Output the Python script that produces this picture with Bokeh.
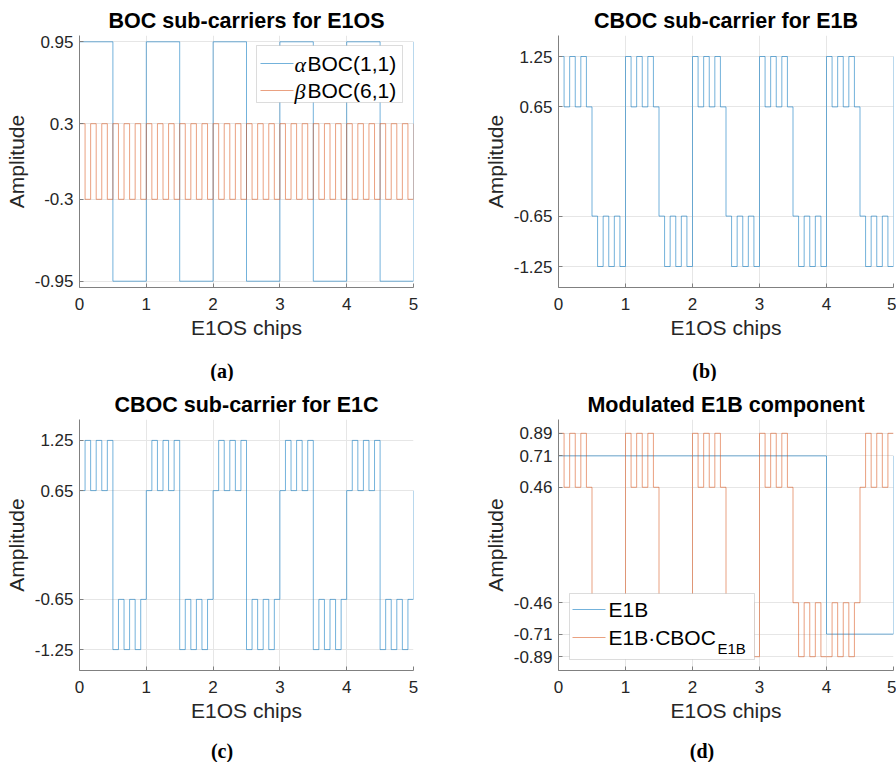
import numpy as np
from bokeh.plotting import figure
from bokeh.layouts import row, column
from bokeh.models import Range1d, FixedTicker, Label, BoxAnnotation
from bokeh.embed import file_html
from bokeh.resources import INLINE

# ---------------------------------------------------------------- data
SUBCHIPS = 12          # BOC(6,1) half-periods per E1OS chip
x_ticks = [0, 1, 2, 3, 4, 5]
x_tick_labels = ["0", "1", "2", "3", "4", "5"]

# alpha*BOC(1,1), one value per half chip (last value = start of next chip)
alpha_boc11 = [0.95, -0.95, 0.95, -0.95, 0.95, -0.95, 0.95, -0.95, 0.95, -0.95, 0.95]

# beta*BOC(6,1), one value per sub-chip, one row per chip
beta_boc61 = [
    0.3, -0.3, 0.3, -0.3, 0.3, -0.3, 0.3, -0.3, 0.3, -0.3, 0.3, -0.3,
    0.3, -0.3, 0.3, -0.3, 0.3, -0.3, 0.3, -0.3, 0.3, -0.3, 0.3, -0.3,
    0.3, -0.3, 0.3, -0.3, 0.3, -0.3, 0.3, -0.3, 0.3, -0.3, 0.3, -0.3,
    0.3, -0.3, 0.3, -0.3, 0.3, -0.3, 0.3, -0.3, 0.3, -0.3, 0.3, -0.3,
    0.3, -0.3, 0.3, -0.3, 0.3, -0.3, 0.3, -0.3, 0.3, -0.3, 0.3, -0.3,
    0.3,
]

# CBOC(+) sub-carrier for E1B
cboc_e1b = [
    1.25, 0.65, 1.25, 0.65, 1.25, 0.65, -0.65, -1.25, -0.65, -1.25, -0.65, -1.25,
    1.25, 0.65, 1.25, 0.65, 1.25, 0.65, -0.65, -1.25, -0.65, -1.25, -0.65, -1.25,
    1.25, 0.65, 1.25, 0.65, 1.25, 0.65, -0.65, -1.25, -0.65, -1.25, -0.65, -1.25,
    1.25, 0.65, 1.25, 0.65, 1.25, 0.65, -0.65, -1.25, -0.65, -1.25, -0.65, -1.25,
    1.25, 0.65, 1.25, 0.65, 1.25, 0.65, -0.65, -1.25, -0.65, -1.25, -0.65, -1.25,
    1.25,
]

# CBOC(-) sub-carrier for E1C
cboc_e1c = [
    0.65, 1.25, 0.65, 1.25, 0.65, 1.25, -1.25, -0.65, -1.25, -0.65, -1.25, -0.65,
    0.65, 1.25, 0.65, 1.25, 0.65, 1.25, -1.25, -0.65, -1.25, -0.65, -1.25, -0.65,
    0.65, 1.25, 0.65, 1.25, 0.65, 1.25, -1.25, -0.65, -1.25, -0.65, -1.25, -0.65,
    0.65, 1.25, 0.65, 1.25, 0.65, 1.25, -1.25, -0.65, -1.25, -0.65, -1.25, -0.65,
    0.65, 1.25, 0.65, 1.25, 0.65, 1.25, -1.25, -0.65, -1.25, -0.65, -1.25, -0.65,
    0.65,
]

# E1B data-channel level, one value per chip
e1b_chips = [0.71, 0.71, 0.71, 0.71, -0.71, 0.71]

# E1B modulated by its CBOC sub-carrier, one value per sub-chip
e1b_modulated = [
    0.89, 0.46, 0.89, 0.46, 0.89, 0.46, -0.46, -0.89, -0.46, -0.89, -0.46, -0.89,
    0.89, 0.46, 0.89, 0.46, 0.89, 0.46, -0.46, -0.89, -0.46, -0.89, -0.46, -0.89,
    0.89, 0.46, 0.89, 0.46, 0.89, 0.46, -0.46, -0.89, -0.46, -0.89, -0.46, -0.89,
    0.89, 0.46, 0.89, 0.46, 0.89, 0.46, -0.46, -0.89, -0.46, -0.89, -0.46, -0.89,
    -0.89, -0.46, -0.89, -0.46, -0.89, -0.46, 0.46, 0.89, 0.46, 0.89, 0.46, 0.89,
    0.89,
]

t_half = np.arange(len(alpha_boc11)) / 2
t_sub = np.arange(len(cboc_e1b)) / SUBCHIPS
t_chip = np.arange(len(e1b_chips))

# ---------------------------------------------------------------- styling
BLUE = "#0072BD"
ORANGE = "#D95319"
LINE_ALPHA = 0.55
AXIS_COLOR = "#808080"
TEXT_COLOR = "#262626"
SANS = "Liberation Sans"
SERIF = "Liberation Serif"
FIG_W = 448
TOP_CAPTION_H, BOTTOM_CAPTION_H = 23, 24


def make_panel(title, height, y_lo, y_hi, yticks, ylabels, borders):
    left, right, top, bottom = borders
    p = figure(width=FIG_W, height=height, title=title,
               x_range=Range1d(0, 5), y_range=Range1d(y_lo, y_hi),
               output_backend="svg", toolbar_location=None,
               min_border_left=left, min_border_right=right,
               min_border_top=top, min_border_bottom=bottom)
    p.outline_line_color = None
    p.background_fill_color = "white"
    p.border_fill_color = "white"

    p.title.align = "center"
    p.title.text_font = SANS
    p.title.text_font_size = "21.5px"
    p.title.text_font_style = "bold"
    p.title.text_color = "black"
    p.title.standoff = 5

    p.xaxis.ticker = FixedTicker(ticks=x_ticks)
    p.xaxis.major_label_overrides = dict(zip(x_ticks, x_tick_labels))
    p.yaxis.ticker = FixedTicker(ticks=yticks)
    p.yaxis.major_label_overrides = dict(zip(yticks, ylabels))
    p.xaxis.axis_label = "E1OS chips"
    p.yaxis.axis_label = "Amplitude"

    for ax in (p.xaxis, p.yaxis):
        ax.axis_line_color = AXIS_COLOR
        ax.axis_line_width = 1
        ax.major_tick_line_color = AXIS_COLOR
        ax.major_tick_in = 4
        ax.major_tick_out = 0
        ax.minor_tick_line_color = None
        ax.major_label_text_font = SANS
        ax.major_label_text_font_size = "17px"
        ax.major_label_text_color = TEXT_COLOR
        ax.axis_label_text_font = SANS
        ax.axis_label_text_font_size = "21px"
        ax.axis_label_text_font_style = "normal"
        ax.axis_label_text_color = TEXT_COLOR
    p.xaxis.major_label_standoff = 10
    p.xaxis.axis_label_standoff = 3
    p.yaxis.major_label_standoff = 6
    p.yaxis.axis_label_standoff = 4

    p.grid.grid_line_color = "#e6e6e6"
    p.grid.grid_line_width = 1
    return p


def at(p, dx, dy):
    """Frame pixel offset (from top-left corner) to data coordinates."""
    fw = p.width - p.min_border_left - p.min_border_right
    fh = p.height - p.min_border_top - p.min_border_bottom
    xr, yr = p.x_range, p.y_range
    return (xr.start + dx / fw * (xr.end - xr.start),
            yr.end - dy / fh * (yr.end - yr.start))


def add_legend(p, box, entries):
    l, t = at(p, box[0], box[1])
    r, b = at(p, box[2], box[3])
    p.add_layout(BoxAnnotation(left=l, right=r, top=t, bottom=b,
                               fill_color="white", fill_alpha=1.0,
                               line_color="#8c8c8c", line_width=1))
    for row_y, line_x0, line_x1, color, pieces in entries:
        x0, y0 = at(p, line_x0, row_y)
        x1, _ = at(p, line_x1, row_y)
        p.segment(x0=[x0], y0=[y0], x1=[x1], y1=[y0], line_color=color,
                  line_alpha=LINE_ALPHA, line_width=1, level="overlay")
        for dx, dy, text, font, style, size in pieces:
            tx, ty = at(p, dx, row_y + dy)
            p.add_layout(Label(x=tx, y=ty, text=text, text_font=font,
                               text_font_style=style, text_font_size=size,
                               text_color="black", text_baseline="middle",
                               text_align="left", level="overlay"))


def make_caption(text, cx, height):
    """Thin strip under a panel carrying its sub-figure letter."""
    c = figure(width=FIG_W, height=height, x_range=Range1d(0, FIG_W),
               y_range=Range1d(0, height), x_axis_type=None, y_axis_type=None,
               output_backend="svg", toolbar_location=None, min_border=0)
    c.outline_line_color = None
    c.grid.visible = False
    c.add_layout(Label(x=cx, y=height - 12, text=text, text_font=SERIF,
                       text_font_style="bold", text_font_size="20px",
                       text_color="black", text_align="center",
                       text_baseline="middle"))
    return c


TOP_H = 381 - TOP_CAPTION_H
BOT_H = 381 - BOTTOM_CAPTION_H

# ---------------------------------------------------------------- (a)
pa = make_panel("BOC sub-carriers for E1OS", TOP_H, -1, 1,
                [-0.95, -0.3, 0.3, 0.95], ["-0.95", "-0.3", "0.3", "0.95"],
                (79, 35, 35, TOP_H - 287))
pa.step(t_half, alpha_boc11, mode="after", line_color=BLUE,
        line_alpha=LINE_ALPHA, line_width=1)
pa.step(t_sub, beta_boc61, mode="after", line_color=ORANGE,
        line_alpha=LINE_ALPHA, line_width=1)
add_legend(pa, (177, 10, 323, 67), [
    (28, 181, 214, BLUE, [(215, 1, "α", SERIF, "italic", "22px"),
                          (228, 0, "BOC(1,1)", SANS, "normal", "21px")]),
    (55, 181, 214, ORANGE, [(215, 1, "β", SERIF, "italic", "22px"),
                            (228, 0, "BOC(6,1)", SANS, "normal", "21px")]),
])

# ---------------------------------------------------------------- (b)
pb = make_panel("CBOC sub-carrier for E1B", TOP_H, -1.5, 1.5,
                [-1.25, -0.65, 0.65, 1.25], ["-1.25", "-0.65", "0.65", "1.25"],
                (110, 3, 35, TOP_H - 287))
pb.step(t_sub, cboc_e1b, mode="after", line_color=BLUE,
        line_alpha=LINE_ALPHA, line_width=1)

# ---------------------------------------------------------------- (c)
pc = make_panel("CBOC sub-carrier for E1C", BOT_H, -1.5, 1.5,
                [-1.25, -0.65, 0.65, 1.25], ["-1.25", "-0.65", "0.65", "1.25"],
                (79, 35, 38, BOT_H - 289))
pc.step(t_sub, cboc_e1c, mode="after", line_color=BLUE,
        line_alpha=LINE_ALPHA, line_width=1)

# ---------------------------------------------------------------- (d)
pd_ = make_panel("Modulated E1B component", BOT_H, -1, 1,
                 [-0.89, -0.71, -0.46, 0.46, 0.71, 0.89],
                 ["-0.89", "-0.71", "-0.46", "0.46", "0.71", "0.89"],
                 (110, 3, 38, BOT_H - 289))
pd_.step(t_chip, e1b_chips, mode="after", line_color=BLUE,
         line_alpha=LINE_ALPHA, line_width=1)
pd_.step(t_sub, e1b_modulated, mode="after", line_color=ORANGE,
         line_alpha=LINE_ALPHA, line_width=1)
add_legend(pd_, (11, 174, 196, 240), [
    (190, 14, 47, BLUE, [(50, 0, "E1B", SANS, "normal", "21px")]),
    (218, 14, 47, ORANGE, [(50, 0, "E1B·CBOC", SANS, "normal", "21px"),
                           (159, 11, "E1B", SANS, "normal", "15px")]),
])

layout = column(
    row(pa, pb),
    row(make_caption("(a)", 221.5, TOP_CAPTION_H), make_caption("(b)", 256, TOP_CAPTION_H)),
    row(pc, pd_),
    row(make_caption("(c)", 221.5, BOTTOM_CAPTION_H), make_caption("(d)", 253.5, BOTTOM_CAPTION_H)),
)
open("out.html", "w").write(file_html(layout, INLINE))
